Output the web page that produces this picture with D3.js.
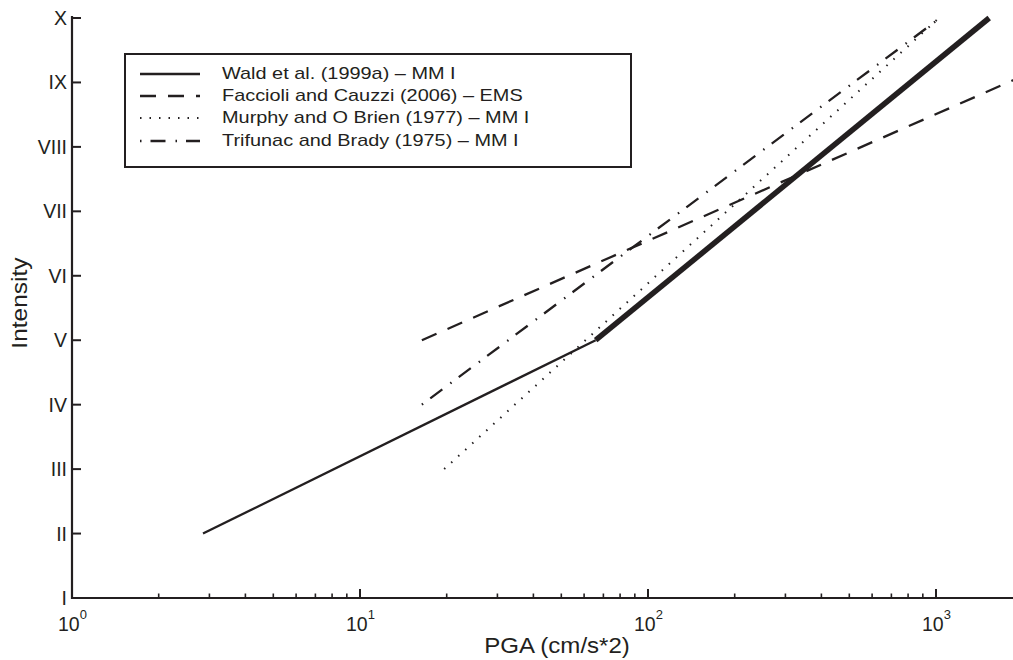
<!DOCTYPE html>
<html>
<head>
<meta charset="utf-8">
<script src="https://cdn.jsdelivr.net/npm/d3@7"></script>
<style>
  body { margin: 0; background: #fff; }
  svg { display: block; font-family: "Liberation Sans", Arial, Helvetica, sans-serif; }
</style>
</head>
<body>
<div id="container"></div>
<script>
// intensity relations, [PGA cm/s^2, intensity]
const waldLow = [[2.85, 2], [65.8, 5]];
const waldHigh = [[65.8, 5], [1530, 10]];
const faccioli = [[16.4, 5], [2000, 9.1]];
const murphy = [[19.6, 3], [1024, 10]];
const trifunac = [[16.4, 4], [1033, 10]];

const romanLabels = ['I', 'II', 'III', 'IV', 'V', 'VI', 'VII', 'VIII', 'IX', 'X'];
const decades = [0, 1, 2, 3];
const legendNames = [
  'Wald et al. (1999a) \u2013 MM I',
  'Faccioli and Cauzzi (2006) \u2013 EMS',
  'Murphy and O Brien (1977) \u2013 MM I',
  'Trifunac and Brady (1975) \u2013 MM I'
];

const ink = '#231f20';
const W = 1013, H = 660;

const svg = d3.select('#container').append('svg')
  .attr('width', W).attr('height', H);

const x = d3.scaleLog().domain([1, 2000]).range([72, 72 + Math.log10(2000) * 288]);
const y = d3.scaleLinear().domain([1, 10]).range([598, 18]);

const line = d3.line().x(d => x(d[0])).y(d => y(d[1]));

// series
const styles = [
  { data: waldLow, width: 2.3, dash: null },
  { data: waldHigh, width: 5.5, dash: null },
  { data: faccioli, width: 2.3, dash: '16,12' },
  { data: murphy, width: 2, dash: '1.5,8' },
  { data: trifunac, width: 2.3, dash: '1.5,9,15,10' }
];
styles.forEach(s => {
  svg.append('path')
    .attr('d', line(s.data))
    .attr('fill', 'none')
    .attr('stroke', ink)
    .attr('stroke-width', s.width)
    .attr('stroke-dasharray', s.dash);
});

// axes
const xAxis = svg.append('g');
xAxis.append('line')
  .attr('x1', 71).attr('x2', W).attr('y1', y(1)).attr('y2', y(1))
  .attr('stroke', ink).attr('stroke-width', 2.2);
const minor = [];
decades.forEach(d => { for (let k = 2; k <= 9; k++) minor.push(k * Math.pow(10, d)); });
xAxis.selectAll('.minor').data(minor.filter(v => v < 2000)).join('line')
  .attr('x1', d => x(d)).attr('x2', d => x(d))
  .attr('y1', y(1)).attr('y2', y(1) - 4.5)
  .attr('stroke', ink).attr('stroke-width', 1.6);
xAxis.selectAll('.major').data(decades).join('line')
  .attr('x1', d => x(Math.pow(10, d))).attr('x2', d => x(Math.pow(10, d)))
  .attr('y1', y(1)).attr('y2', y(1) - 9)
  .attr('stroke', ink).attr('stroke-width', 2);
const xl = xAxis.selectAll('text').data(decades).join('text')
  .attr('x', d => x(Math.pow(10, d)) - 14)
  .attr('y', 631)
  .attr('font-size', 19.5)
  .attr('fill', ink);
xl.append('tspan').text('10');
xl.append('tspan').attr('dy', -12).attr('font-size', 13).text(d => d);

const yAxis = svg.append('g');
yAxis.append('line')
  .attr('x1', 72).attr('x2', 72).attr('y1', y(10) - 2).attr('y2', y(1) + 1)
  .attr('stroke', ink).attr('stroke-width', 2.2);
yAxis.selectAll('line.t').data(d3.range(1, 11)).join('line')
  .attr('x1', 72).attr('x2', 81)
  .attr('y1', d => y(d)).attr('y2', d => y(d))
  .attr('stroke', ink).attr('stroke-width', 2);
yAxis.selectAll('text').data(romanLabels).join('text')
  .attr('x', 67)
  .attr('y', (d, i) => y(i + 1) + 7)
  .attr('text-anchor', 'end')
  .attr('font-size', 19.5)
  .attr('fill', ink)
  .text(d => d);

// axis titles (the original face is a little wider than Arial)
svg.append('text')
  .attr('transform', 'translate(557,653) scale(1.12,1)')
  .attr('text-anchor', 'middle')
  .attr('font-size', 21.5)
  .attr('fill', ink)
  .text('PGA (cm/s*2)');
svg.append('text')
  .attr('transform', 'translate(27,303) rotate(-90) scale(1.14,1)')
  .attr('text-anchor', 'middle')
  .attr('font-size', 21.5)
  .attr('fill', ink)
  .text('Intensity');

// legend
const lg = svg.append('g');
lg.append('rect')
  .attr('x', 125).attr('y', 54).attr('width', 506).attr('height', 113)
  .attr('fill', '#fff').attr('stroke', ink).attr('stroke-width', 2);
const legendStyles = [styles[0], styles[2], styles[3], styles[4]];
const rowY = [79, 101, 123, 146];
legendNames.forEach((name, i) => {
  lg.append('line')
    .attr('x1', 140).attr('x2', 200)
    .attr('y1', rowY[i] - 5).attr('y2', rowY[i] - 5)
    .attr('stroke', ink)
    .attr('stroke-width', legendStyles[i].width)
    .attr('stroke-dasharray', legendStyles[i].dash);
  lg.append('text')
    .attr('transform', `translate(222,${rowY[i]}) scale(1.17,1)`)
    .attr('font-size', 17)
    .attr('fill', ink)
    .text(name);
});
</script>
</body>
</html>
